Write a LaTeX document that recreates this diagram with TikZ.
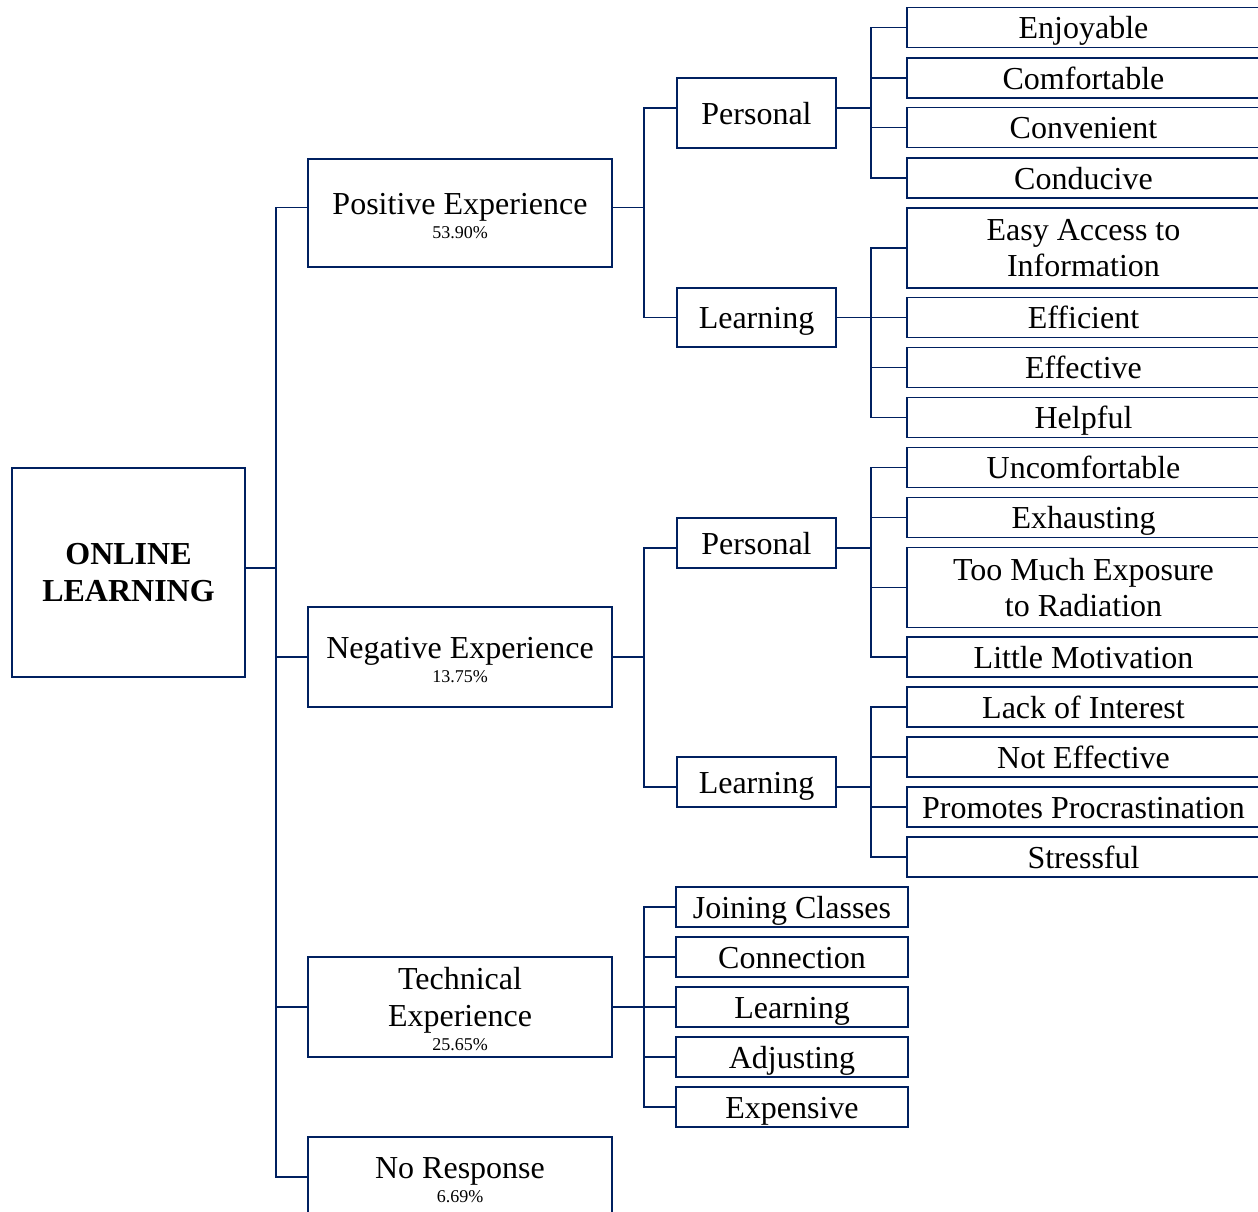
\documentclass[tikz,border=0pt]{standalone}
\usepackage{fontspec}
\setmainfont{Liberation Serif}
\definecolor{navy}{RGB}{0,32,96}
\begin{document}
\begin{tikzpicture}[x=0.5pt,y=-0.5pt,
  box/.style={draw=navy, line width=0.75pt, inner sep=0pt, outer sep=0pt,
    align=center, font=\fontsize{16}{18}\selectfont},
  onebox/.style={box, text height=11pt, text depth=0pt},
  conn/.style={draw=navy, line width=0.75pt}]
\useasboundingbox (0,0) rectangle (1258,1211);
\clip (0,0) rectangle (1258,1211);

% root
\node[box, minimum width=116.5pt, minimum height=104.5pt,
  font=\fontsize{16}{18.5}\selectfont\bfseries] (root) at (128.5,572.5) {ONLINE\\LEARNING};

% first level
\node[box, minimum width=152pt, minimum height=54pt] (pos) at (460,213)
  {\rule{0pt}{14pt}Positive Experience\\[-6pt]{\fontsize{9}{10}\selectfont 53.90\%}};
\node[box, minimum width=152pt, minimum height=50pt] (neg) at (460,657)
  {\rule{0pt}{14pt}Negative Experience\\[-6pt]{\fontsize{9}{10}\selectfont 13.75\%}};
\node[box, minimum width=152pt, minimum height=50pt, font=\fontsize{16}{18.5}\selectfont] (tech) at (460,1007)
  {\rule{0pt}{13pt}Technical\\Experience\\[-6.5pt]{\fontsize{9}{10}\selectfont 25.65\%}};
\node[box, minimum width=152pt, minimum height=43pt] (nores) at (460,1180)
  {No Response\\[-6pt]{\fontsize{9}{10}\selectfont 6.69\%}};

% second level
\node[onebox, minimum width=79.5pt, minimum height=35pt] (pp) at (756.5,113) {Personal};
\node[onebox, minimum width=79.5pt, minimum height=29.5pt] (pl) at (756.5,317.5) {Learning};
\node[onebox, minimum width=79.5pt, minimum height=25pt] (np) at (756.5,543) {Personal};
\node[onebox, minimum width=79.5pt, minimum height=25pt] (nl) at (756.5,782) {Learning};

% technical leaves
\foreach \n/\y/\t in {ta/907/Joining Classes, tb/957/Connection, tc/1007/Learning,
                      td/1057/Adjusting, te/1107/Expensive}
  \node[onebox, minimum width=116pt, minimum height=20pt] (\n) at (792,\y) {\t};

% right-hand leaves
\foreach \n/\y/\t in {a1/27.5/Enjoyable, a2/78/Comfortable, a3/127.5/Convenient, a4/178/Conducive,
                      b2/317.5/Efficient, b3/367.5/Effective, b4/417.5/Helpful,
                      c1/467.5/Uncomfortable, c2/517.5/Exhausting, c4/657/Little Motivation,
                      d1/707/Lack of Interest, d2/757/Not Effective,
                      d3/807/Promotes Procrastination, d4/857/Stressful}
  \node[onebox, minimum width=176.5pt, minimum height=20pt] (\n) at (1083.5,\y) {\t};
\node[box, minimum width=176.5pt, minimum height=40pt] (b1) at (1083.5,248)
  {Easy Access to\\Information};
\node[box, minimum width=176.5pt, minimum height=40pt] (c3) at (1083.5,587.5)
  {Too Much Exposure\\to Radiation};

% connectors: root to first level
\foreach \c/\s in {pos/2.75pt, neg/0pt, tech/0pt, nores/1.5pt}
  \draw[conn] ([yshift=2.25pt]root.east) -- ++(31,0) |- ([yshift=\s]\c.west);

% first level to second level
\foreach \c/\s in {pp/2.5pt, pl/0pt}
  \draw[conn] ([yshift=2.75pt]pos.east) -- ++(32,0) |- ([yshift=\s]\c.west);
\foreach \c/\s in {np/-2.5pt, nl/-2.5pt}
  \draw[conn] (neg.east) -- ++(32,0) |- ([yshift=\s]\c.west);
\foreach \c in {ta,tb,tc,td,te}
  \draw[conn] (tech.east) -- ++(32,0) |- (\c.west);

% second level to leaves
\foreach \c in {a1,a2,a3,a4}
  \draw[conn] ([yshift=2.5pt]pp.east) -- ++(35,0) |- (\c.west);
\foreach \c in {b1,b2,b3,b4}
  \draw[conn] (pl.east) -- ++(35,0) |- (\c.west);
\foreach \c in {c1,c2,c3,c4}
  \draw[conn] ([yshift=-2.5pt]np.east) -- ++(35,0) |- (\c.west);
\foreach \c in {d1,d2,d3,d4}
  \draw[conn] ([yshift=-2.5pt]nl.east) -- ++(35,0) |- (\c.west);
\end{tikzpicture}
\end{document}
